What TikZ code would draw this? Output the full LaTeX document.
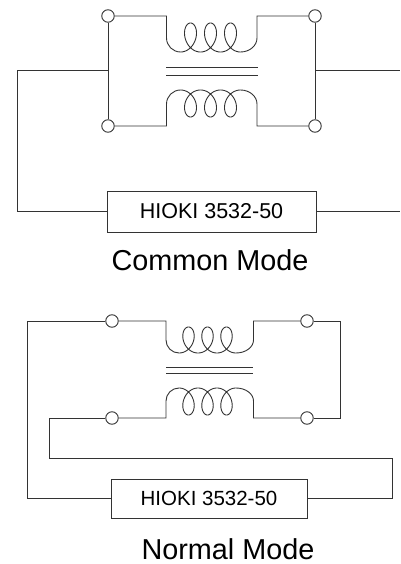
\documentclass[tikz,border=0pt]{standalone}
\usepackage{fontspec}
\setmainfont{Liberation Sans}
\begin{document}
\begin{tikzpicture}[x=1pt,y=-1pt,
  wire/.style={draw=black!80,line width=0.9pt},
  term/.style={circle,draw=black!80,line width=0.9pt,fill=white,minimum size=12.5pt,inner sep=0pt},
  meter/.style={rectangle,draw=black!80,line width=0.9pt,fill=white,inner sep=0pt},
  lab/.style={anchor=base,inner sep=0pt,font=\fontsize{28.8}{30}\selectfont}]
\useasboundingbox (0,0) rectangle (400,564);
% ---------------- Common mode ----------------
\node[term] (tl1) at (108,16) {};
\node[term] (tr1) at (315,16) {};
\node[term] (bl1) at (108,126) {};
\node[term] (br1) at (315,126) {};
\node[meter,minimum width=209pt,minimum height=41pt,font=\fontsize{21.5}{24}\selectfont] (box1) at (211.5,211.5) {HIOKI 3532-50};
\coordinate (jl1) at (108,70);
\coordinate (jr1) at (315,70);
\coordinate (er1) at (400,70);
\coordinate (er2) at (400,211.5);
\draw[wire] (tl1) -- (166.5,16) -- (166.5,38) .. controls (166.5,45.7) and (172.8,52) .. (180.5,52)
  -- plot[domain=-3.14159:15.70796,samples=241,variable=\t] ({190.5+3.1831*\t-10.5*sin(\t r)},{37.5-14.5*cos(\t r)})
  .. controls (249.6,52) and (257,45.7) .. (257,38) -- (257,16) -- (tr1);
\draw[wire] (bl1) -- (166.5,126) -- (166.5,104) .. controls (166.5,96.3) and (172.8,90) .. (180.5,90)
  -- plot[domain=-3.14159:15.70796,samples=241,variable=\t] ({190.5+3.1831*\t-10.5*sin(\t r)},{103.5+13.5*cos(\t r)})
  .. controls (249.6,90) and (257,96.3) .. (257,104) -- (257,126) -- (br1);
\draw[wire] (166,67) -- (258,67);
\draw[wire] (166,75) -- (258,75);
\draw[wire] (tl1) -- (bl1);
\draw[wire] (tr1) -- (br1);
\draw[wire] (jl1) -- (17,70) |- (box1.west);
\draw[wire] (jr1) -- (er1);
\draw[wire] (box1.east) -- (er2);
\node[lab] (lab1) at (210,270) {Common Mode};
% ---------------- Normal mode ----------------
\node[term] (tl2) at (112,321) {};
\node[term] (tr2) at (307,321) {};
\node[term] (bl2) at (112,418) {};
\node[term] (br2) at (307,418) {};
\node[meter,minimum width=196pt,minimum height=39pt,font=\fontsize{20.5}{23}\selectfont] (box2) at (209,498.5) {HIOKI 3532-50};
\draw[wire] (tl2) -- (166,321) -- (166,340) .. controls (166,347.2) and (171.8,353) .. (179,353)
  -- plot[domain=-3.14159:15.70796,samples=241,variable=\t] ({188.5+3.0239*\t-10*sin(\t r)},{340-13*cos(\t r)})
  .. controls (245.7,353) and (253.5,347.2) .. (253.5,340) -- (253.5,321) -- (tr2);
\draw[wire] (bl2) -- (166,418) -- (166,401) .. controls (166,393.8) and (171.8,388) .. (179,388)
  -- plot[domain=-3.14159:15.70796,samples=241,variable=\t] ({188.5+3.0239*\t-10*sin(\t r)},{401.5+13.5*cos(\t r)})
  .. controls (245.7,388) and (253.5,393.8) .. (253.5,401) -- (253.5,418) -- (br2);
\draw[wire] (166,367) -- (253,367);
\draw[wire] (166,373) -- (253,373);
\draw[wire] (tr2) -- (340,321) |- (br2);
\draw[wire] (tl2) -- (27,321) |- (box2.west);
\draw[wire] (bl2) -- (49,418) |- (392,458) |- (box2.east);
\node[lab] (lab2) at (228,559) {Normal Mode};
\end{tikzpicture}
\end{document}
